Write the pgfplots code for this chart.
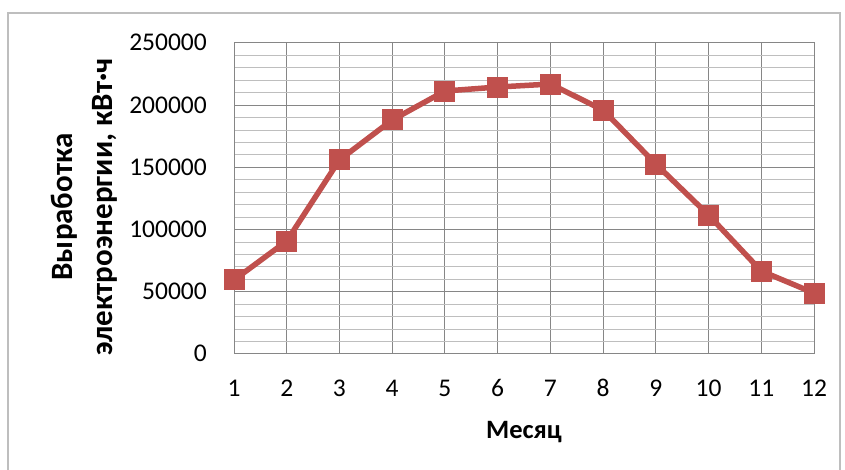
\documentclass[border=0pt]{standalone}
\usepackage{fontspec}
\setmainfont{Carlito}
\usepackage{pgfplots}
\pgfplotsset{compat=1.18}
\definecolor{exred}{RGB}{192,80,77}
\definecolor{majgrid}{RGB}{134,134,134}
\definecolor{mingrid}{RGB}{190,190,190}
\begin{document}
\begin{tikzpicture}
\useasboundingbox (0pt,0pt) rectangle (845pt,470pt);
\draw[color=mingrid, line width=1.2pt] (8pt,-2pt) -- (8pt,457pt) -- (840pt,457pt) -- (840pt,-2pt);
\begin{axis}[
  at={(234pt,116pt)}, anchor=south west,
  scale only axis, width=580pt, height=311pt,
  xmin=1, xmax=12, ymin=0, ymax=250000,
  xtick={1,...,12},
  ytick={0,50000,...,250000},
  minor y tick num=4,
  grid=both,
  major grid style={majgrid, line width=1pt},
  minor grid style={mingrid, line width=1pt},
  axis line style={majgrid, line width=1pt},
  tick style={draw=none},
  font=\fontsize{25.5}{30}\selectfont,
  /pgf/number format/assume math mode=true,
  scaled y ticks=false,
  yticklabel={\pgfmathprintnumber[fixed,1000 sep={}]{\tick}},
  yticklabel style={anchor=base east, inner sep=0pt, xshift=-27pt, yshift=-8pt},
  xticklabel style={anchor=base, inner sep=0pt, yshift=-43pt},
  clip=false,
]
\addplot[color=exred, line width=5.5pt, mark=square*, mark size=10pt, mark options={solid, fill=exred, draw=exred, line width=0pt}]
coordinates {
(1,59500) (2,90800) (3,156000) (4,188100) (5,211400) (6,214600)
(7,217000) (8,196100) (9,152700) (10,111700) (11,66700) (12,49000)
};
\end{axis}
\node[rotate=90, align=center, font=\bfseries\fontsize{31}{40}\selectfont] at (84pt,263pt) {Выработка\\электроэнергии, кВт·ч};
\node[font=\bfseries\fontsize{26.5}{32}\selectfont] at (524pt,38pt) {Месяц};
\end{tikzpicture}
\end{document}
